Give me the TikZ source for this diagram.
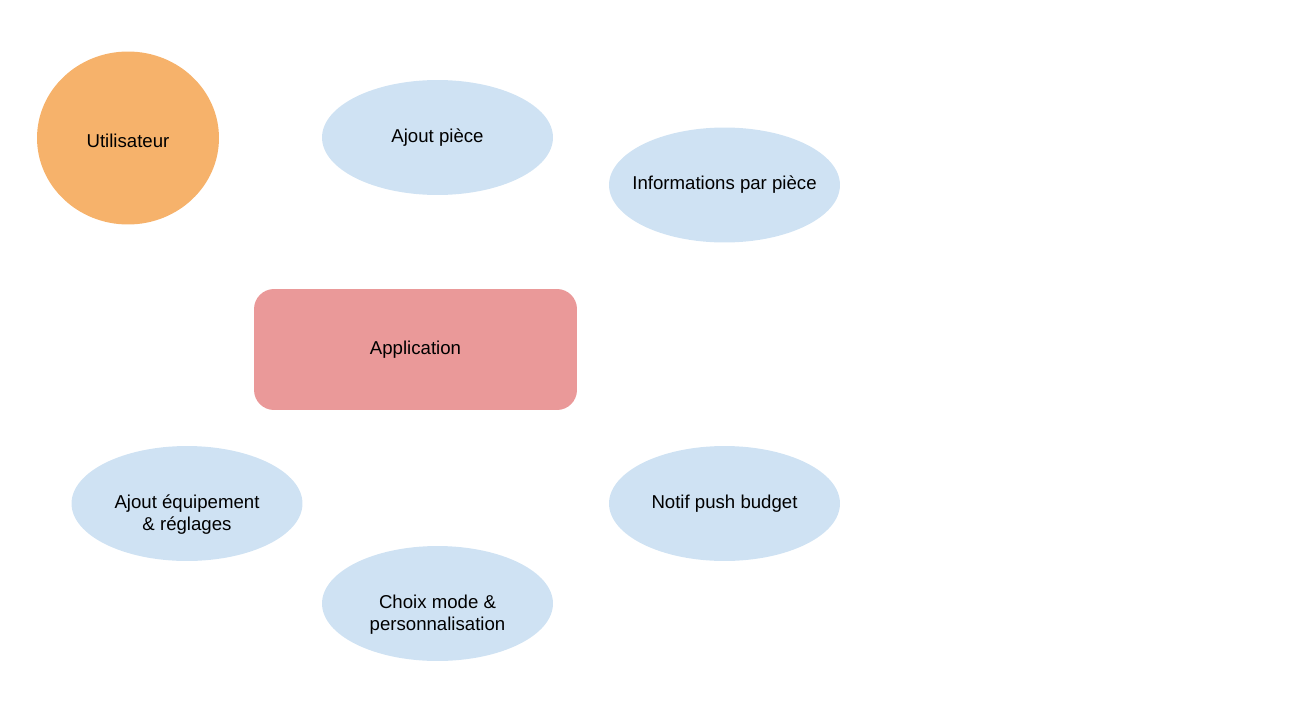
\documentclass[tikz,border=0pt]{standalone}
\usepackage{fontspec}
\setmainfont{Liberation Sans}
\usetikzlibrary{shapes.geometric}
\definecolor{userOrange}{HTML}{F6B26B}
\definecolor{appRed}{HTML}{EA9999}
\definecolor{featBlue}{HTML}{CFE2F3}
\newcommand{\diagFont}[0]{\fontsize{10.6}{12.5}\selectfont}

\begin{document}
\begin{tikzpicture}[x=0.02cm, y=-0.02cm]
  \tikzset{every node/.style={align=center,font=\diagFont,text=black}}
  \tikzset{feature/.style={ellipse,fill=featBlue,minimum width=4.62cm,minimum height=2.3cm,inner ysep=0pt,inner xsep=-6pt}}
  \tikzset{lowtext/.style={label={[yshift=-0.22cm,align=center]center:#1}}}
  \useasboundingbox (0,0) rectangle (1293,723);
  \node[ellipse, fill=userOrange, minimum width=3.64cm, minimum height=3.46cm, inner sep=0pt, label={[yshift=-0.05cm]center:Utilisateur}] (user) at (128,138) {};
  \node[rectangle, rounded corners=0.4cm, fill=appRed, minimum width=6.46cm, minimum height=2.42cm] (app) at (415.5,349.5) {Application};
  \node[feature] (addRoom) at (437.5,137.5) {Ajout pièce};
  \node[feature] (roomInfo) at (724.5,185) {Informations par pièce};
  \node[feature, lowtext={Ajout équipement\\ \& réglages}] (addDevice) at (187,503.5) {};
  \node[feature] (budgetPush) at (724.5,503.5) {Notif push budget};
  \node[feature, lowtext={Choix mode \&\\personnalisation}] (modeChoice) at (437.5,603.5) {};
\end{tikzpicture}
\end{document}
